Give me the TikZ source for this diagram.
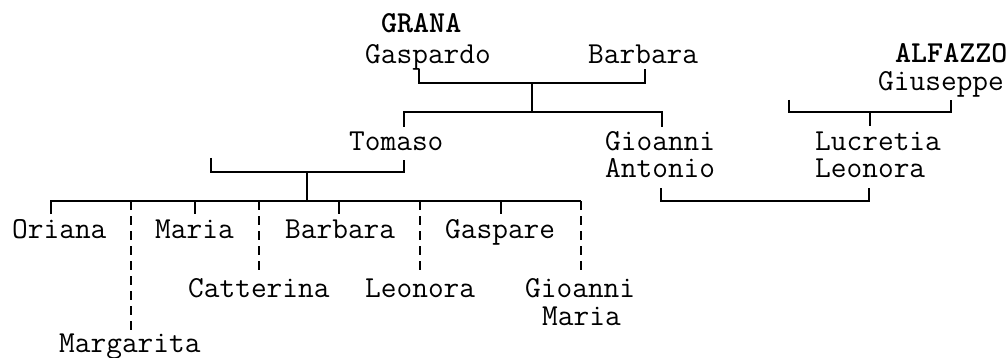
\documentclass[tikz,border=0pt]{standalone}
\begin{document}
\begin{tikzpicture}[x=1pt,y=-1pt,
  person/.style={inner sep=0pt,anchor=base west,font=\fontsize{30.5}{36}\selectfont\ttfamily},
  upper/.style={person,text depth=0pt},
  surname/.style={person,font=\fontsize{30.5}{36}\selectfont\ttfamily\bfseries},
  link/.style={line width=1.7pt,line cap=butt,line join=miter},
  dlink/.style={link,dash pattern=on 9pt off 6pt}]
\useasboundingbox (0,0) rectangle (1008,358);
% people
\node[surname] (grana) at (381,33) {GRANA};
\node[person] (gaspardo) at (365,64) {Gaspardo};
\node[person] (barbaraA) at (588,64) {Barbara};
\node[surname] (alfazzo) at (895,63) {ALFAZZO};
\node[person] (giuseppe) at (878,91) {Giuseppe};
\node[person] (tomaso) at (349,151) {Tomaso};
\node[upper] (gioanniA) at (605,151) {Gioanni};
\node[person] (antonio) at (605,178) {Antonio};
\node[upper] (lucretia) at (815,151) {Lucretia};
\node[person] (leonoraA) at (815,178) {Leonora};
\node[person] (oriana) at (12,238) {Oriana};
\node[person] (maria) at (155,238) {Maria};
\node[person] (barbaraB) at (285,238) {Barbara};
\node[person] (gaspare) at (445,238) {Gaspare};
\node[person] (catterina) at (188,297) {Catterina};
\node[person] (leonoraB) at (365,297) {Leonora};
\node[upper] (gioanniB) at (525,297) {Gioanni};
\node[person] (mariaB) at (542,325) {Maria};
\node[person] (margarita) at (59,352) {Margarita};
% junction points
\coordinate (gaspT) at (419,69);
\coordinate (barbT) at (645,69);
\coordinate (gbMid) at (532,83);
\coordinate (gbDrop) at (532,112);
\coordinate (tomT) at (404,127);
\coordinate (gioT) at (662,127);
\coordinate (alfL) at (789,100);
\coordinate (alfR) at (951,100);
\coordinate (alfMid) at (870,112);
\coordinate (lucT) at (870,126);
\coordinate (tomL) at (211,158);
\coordinate (tomR) at (404,160);
\coordinate (tomMid) at (307,172);
\coordinate (kidsBar) at (307,201);
\coordinate (antB) at (661,188);
\coordinate (leoB) at (869,188);
\coordinate (alMid) at (765,201);
\coordinate (kidsL) at (51,201);
\coordinate (kidsR) at (581,201);
\coordinate (orianaT) at (51,214);
\coordinate (mariaT) at (195,214);
\coordinate (barbaraT) at (339,214);
\coordinate (gaspareT) at (501,214);
\coordinate (margTop) at (131,201);
\coordinate (margT) at (131,330);
\coordinate (catTop) at (259,201);
\coordinate (catT) at (259,270);
\coordinate (leoTop) at (420,201);
\coordinate (leoT) at (420,270);
\coordinate (gmT) at (581,270);
% connectors
\draw[link] (gaspT) |- (gbMid) -| (barbT);
\draw[link] (gbMid) -- (gbDrop);
\draw[link] (tomT) |- (gbDrop) -| (gioT);
\draw[link] (alfL) |- (alfMid) -| (alfR);
\draw[link] (alfMid) -- (lucT);
\draw[link] (tomL) |- (tomMid) -| (tomR);
\draw[link] (tomMid) -- (kidsBar);
\draw[link] (antB) |- (alMid) -| (leoB);
\draw[link] (orianaT) |- (kidsBar) -| (kidsR);
\draw[link] (mariaT |- kidsL) -- (mariaT);
\draw[link] (barbaraT |- kidsL) -- (barbaraT);
\draw[link] (gaspareT |- kidsL) -- (gaspareT);
\draw[dlink] (margTop) -- (margT);
\draw[dlink] (catTop) -- (catT);
\draw[dlink] (leoTop) -- (leoT);
\draw[dlink] (kidsR) -- (gmT);
\end{tikzpicture}
\end{document}
